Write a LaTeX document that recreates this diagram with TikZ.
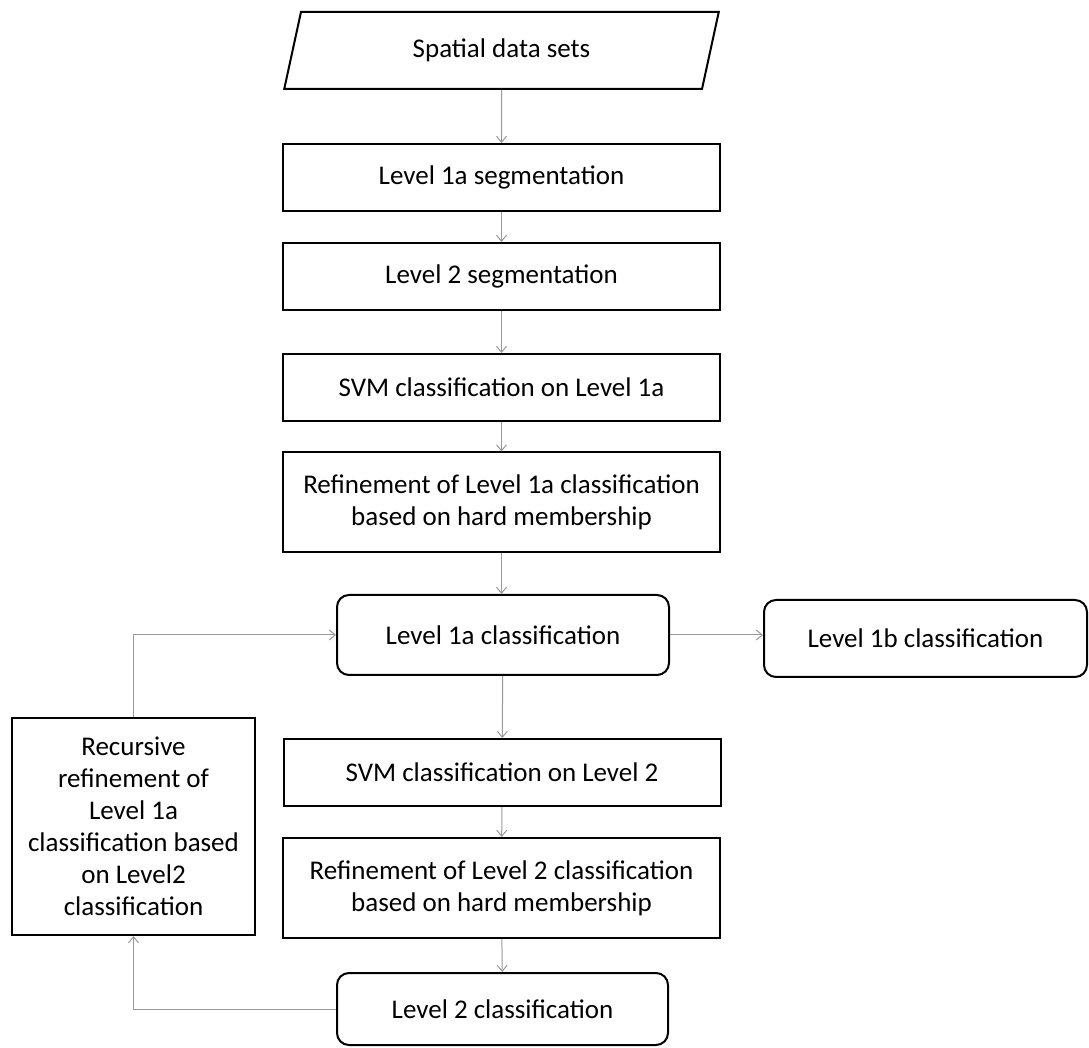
\documentclass[tikz,border=0pt]{standalone}
\usepackage{fontspec}
\setmainfont{Carlito}
\usetikzlibrary{shapes.geometric,arrows.meta}

\begin{document}
\begin{tikzpicture}[x=0.5pt,y=-0.5pt,
        every node/.style={font=\fontsize{13.5}{16}\selectfont},
        box/.style={draw,line width=1pt,align=center,inner sep=2pt,
            minimum width=218.5pt,minimum height=33.5pt},
        roundbox/.style={box,rounded corners=6pt},
        flow/.style={draw=black!40,line width=0.5pt,
            -{Straight Barb[length=3pt,width=5pt]}}]
        \useasboundingbox (0,0) rectangle (1089,1048);
        % Input
        \node[box,trapezium,trapezium left angle=76,trapezium right angle=104,
            trapezium stretches=true,minimum height=38.5pt] (data) at (501.5,50.5) {Spatial data sets};
        % Segmentation
        \node[box] (seg1a) at (501.5,177.5) {Level 1a segmentation};
        \node[box] (seg2) at (501.5,276.5) {Level 2 segmentation};
        % Level 1a
        \node[box] (svm1a) at (501.5,387.5) {SVM classification on Level 1a};
        \node[box,minimum height=50pt] (ref1a) at (501.5,502.5) {Refinement of Level 1a classification\\based on hard membership};
        \node[roundbox,minimum width=166pt,minimum height=40pt] (class1a) at (503,635) {Level 1a classification};
        \node[roundbox,minimum width=161.5pt,minimum height=38.5pt] (class1b) at (925.5,638.5) {Level 1b classification};
        % Level 2
        \node[box] (svm2) at (502,772.5) {SVM classification on Level 2};
        \node[box,minimum height=50pt] (ref2) at (501.5,888) {Refinement of Level 2 classification\\based on hard membership};
        \node[roundbox,minimum width=165.5pt,minimum height=36pt] (class2) at (502.5,1009) {Level 2 classification};
        % Loop back
        \node[box,minimum width=121.5pt,minimum height=108.5pt] (recur) at (133.5,826.5) {Recursive\\refinement of\\Level 1a\\classification based\\on Level2\\classification};

        % Arrows
        \draw[flow] (data) -- (seg1a);
        \draw[flow] (seg1a) -- (seg2);
        \draw[flow] (seg2) -- (svm1a);
        \draw[flow] (svm1a) -- (ref1a);
        \draw[flow] (ref1a.south) -- (ref1a.south |- class1a.north);
        \draw[flow] (class1a.east) -- (class1a.east -| class1b.west);
        \draw[flow] (class1a) -- (svm2);
        \draw[flow] (svm2) -- (ref2);
        \draw[flow] (ref2) -- (class2);
        \draw[flow] (class2.west) -| (recur.south);
        \draw[flow] (recur.north) |- (class1a.west);
    \end{tikzpicture}
\end{document}
